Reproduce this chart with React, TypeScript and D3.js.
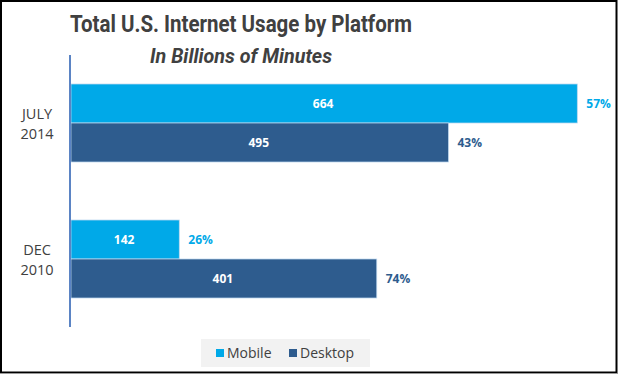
import React from "react";
import * as d3 from "d3";

const categories = ["JULY 2014", "DEC 2010"];
const series = ["Mobile", "Desktop"];
const mobileValues = [664, 142];
const desktopValues = [495, 401];
const mobileShare = ["57%", "26%"];
const desktopShare = ["43%", "74%"];
const colors = ["#00A9E8", "#2E5C8E"];

export default function App() {
  const W = 618, H = 375;
  const left = 70, top = 55, bottom = 327;
  const x = d3.scaleLinear().domain([0, 700]).range([left, left + 700 * 0.7625]);
  const y0 = d3.scaleBand().domain(categories).range([top, bottom]).paddingInner(0).paddingOuter(0);
  const groupH = 78;
  const y1 = d3.scaleBand().domain(series).range([0, groupH]);
  const valuesBySeries = [mobileValues, desktopValues];
  const sharesBySeries = [mobileShare, desktopShare];

  return (
    <svg width={W} height={H} style={{ position: "absolute", left: 0, top: 0, background: "#fff" }}>
      <rect x={1} y={1} width={615.5} height={371.5} fill="#fff" stroke="#000" strokeWidth={2} />
      <line x1={0} x2={618} y1={373.5} y2={373.5} stroke="#999" strokeWidth={1} />
      <text x={241} y={32} textAnchor="middle" fontFamily="Roboto" fontWeight={700} fontSize={24} fill="#404040" textLength={342} lengthAdjust="spacingAndGlyphs">
        Total U.S. Internet Usage by Platform
      </text>
      <text x={241} y={63} textAnchor="middle" fontFamily="Roboto" fontStyle="italic" fontWeight={700} fontSize={21} fill="#404040" textLength={182} lengthAdjust="spacingAndGlyphs">
        In Billions of Minutes
      </text>
      {categories.map((c, ci) => {
        const gy = (y0(c) as number) + y0.bandwidth() / 2 - groupH / 2;
        const lines = c.split(" ");
        const cy = (y0(c) as number) + y0.bandwidth() / 2;
        return (
          <g key={c}>
            {series.map((s, si) => {
              const v = valuesBySeries[si][ci];
              const by = gy + (y1(s) as number);
              const bh = y1.bandwidth();
              return (
                <g key={s}>
                  <rect x={x(0) + 1} y={by} width={x(v) - x(0)} height={bh} fill={colors[si]} stroke="#BDD7EE" strokeWidth={0.75} />
                  <text x={(x(0) + x(v)) / 2} y={by + bh / 2 + 4.5} textAnchor="middle" fontFamily="Open Sans" fontWeight={700} fontSize={12} fill="#fff">
                    {v}
                  </text>
                  <text x={x(v) + 10} y={by + bh / 2 + 4} textAnchor="start" fontFamily="Open Sans" fontWeight={700} fontSize={12} fill={colors[si]}>
                    {sharesBySeries[si][ci]}
                  </text>
                </g>
              );
            })}
            {lines.map((l, li) => (
              <text key={l} x={37} y={cy - 4 + li * 20} textAnchor="middle" fontFamily="Open Sans" fontSize={14.5} fill="#404040">
                {l}
              </text>
            ))}
          </g>
        );
      })}
      <line x1={70} x2={70} y1={top} y2={bottom} stroke="#5B84C4" strokeWidth={2} />
      <rect x={201} y={339} width={169} height={28} fill="#F2F2F2" />
      {series.map((s, si) => {
        const lx = si === 0 ? 216 : 289;
        return (
          <g key={s}>
            <rect x={lx} y={349} width={8} height={8} fill={colors[si]} />
            <text x={lx + 11} y={358} fontFamily="Open Sans" fontSize={14} fill="#404040">
              {s}
            </text>
          </g>
        );
      })}
    </svg>
  );
}
